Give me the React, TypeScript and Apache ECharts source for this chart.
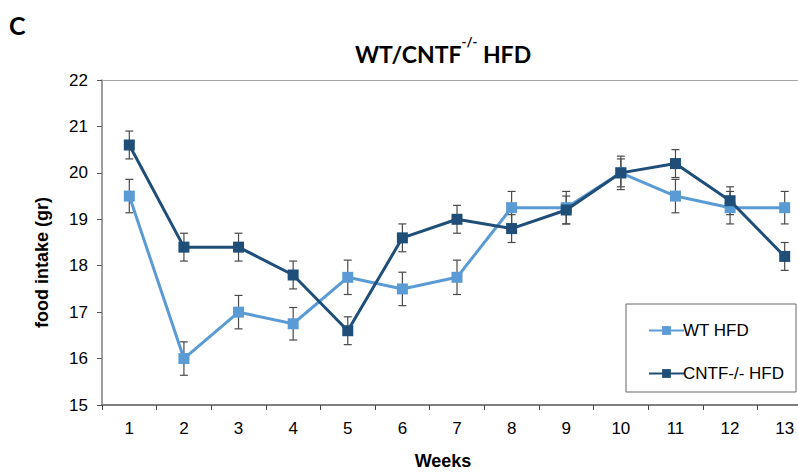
import React, { useEffect, useRef } from "react";
import * as echarts from "echarts";

const weeks = ["1", "2", "3", "4", "5", "6", "7", "8", "9", "10", "11", "12", "13"];
const wtHfd = [19.5, 16.0, 17.0, 16.75, 17.75, 17.5, 17.75, 19.25, 19.25, 20.0, 19.5, 19.25, 19.25];
const wtErr = [0.36, 0.36, 0.36, 0.35, 0.37, 0.36, 0.37, 0.35, 0.35, 0.36, 0.36, 0.35, 0.35];
const cntfHfd = [20.6, 18.4, 18.4, 17.8, 16.6, 18.6, 19.0, 18.8, 19.2, 20.0, 20.2, 19.4, 18.2];
const cntfErr = [0.3, 0.3, 0.3, 0.3, 0.3, 0.3, 0.3, 0.3, 0.3, 0.3, 0.3, 0.3, 0.3];
const yTicks = { min: 15, max: 22, interval: 1 };

const WT_COLOR = "#5b9bd5";
const CNTF_COLOR = "#1f4e79";

function errData(vals: number[], errs: number[]) {
  return vals.map((v, i) => [i, v - errs[i], v + errs[i]]);
}

function errSeries(vals: number[], errs: number[]) {
  return {
    type: "custom",
    silent: true,
    z: 1,
    data: errData(vals, errs),
    renderItem: (params: any, api: any) => {
      const x = api.value(0);
      const lo = api.coord([x, api.value(1)]);
      const hi = api.coord([x, api.value(2)]);
      const cap = 4;
      const style = { stroke: "#4a4a4a", lineWidth: 1.2 };
      return {
        type: "group",
        children: [
          { type: "line", shape: { x1: lo[0], y1: lo[1], x2: hi[0], y2: hi[1] }, style },
          { type: "line", shape: { x1: lo[0] - cap, y1: lo[1], x2: lo[0] + cap, y2: lo[1] }, style },
          { type: "line", shape: { x1: hi[0] - cap, y1: hi[1], x2: hi[0] + cap, y2: hi[1] }, style },
        ],
      };
    },
  };
}

export default function App() {
  const ref = useRef<HTMLDivElement>(null);
  useEffect(() => {
    document.body.style.margin = "0";
    const chart = echarts.init(ref.current!, null, { renderer: "svg" });
    chart.setOption({
      animation: false,
      backgroundColor: "#ffffff",
      textStyle: { fontFamily: "Liberation Sans" },
      title: {
        text: "{m|WT/CNTF}{s|-/-}{m| HFD}",
        left: 438,
        top: 30,
        textAlign: "center",
        textStyle: {
          rich: {
            m: { fontFamily: "Lato", fontWeight: "bold", fontSize: 23, color: "#000", verticalAlign: "bottom", lineHeight: 30 },
            s: { fontFamily: "Lato", fontWeight: "bold", fontSize: 13, color: "#000", verticalAlign: "top", lineHeight: 30, padding: [0, 0, 14, 0] },
          },
        },
      },
      graphic: [
        { type: "text", left: 9, top: 12, style: { text: "C", fontFamily: "Lato", fontWeight: "bold", fontSize: 25, fill: "#000" } },
        { type: "rect", shape: { x: 626, y: 304, width: 170, height: 88 }, style: { fill: "#fff", stroke: "#666", lineWidth: 1 }, z: 5 },
      ],
      legend: {
        orient: "vertical",
        left: 643,
        top: 317,
        itemGap: 26,
        itemWidth: 35,
        itemHeight: 11,
        z: 10,
        textStyle: { fontFamily: "Liberation Sans", fontSize: 17, color: "#000", padding: [0, 0, 0, -6] },
        data: ["WT HFD", "CNTF-/- HFD"],
      },
      grid: { left: 102, width: 710, top: 80, bottom: 67, containLabel: false, outerBoundsMode: "none" },
      xAxis: {
        type: "category",
        data: weeks,
        boundaryGap: true,
        name: "Weeks",
        nameLocation: "middle",
        nameGap: 47,
        nameTextStyle: { fontFamily: "Liberation Sans", fontWeight: "bold", fontSize: 18, color: "#000", padding: [0, 28, 0, 0] },
        axisLine: { lineStyle: { color: "#7f7f7f", width: 2 } },
        axisTick: { show: true, alignWithLabel: false, length: 5, lineStyle: { color: "#444", width: 1 } },
        axisLabel: { fontFamily: "Liberation Sans", fontSize: 17, color: "#000", margin: 15 },
        splitLine: { show: false },
      },
      yAxis: {
        type: "value",
        min: yTicks.min,
        max: yTicks.max,
        interval: yTicks.interval,
        name: "food intake (gr)",
        nameLocation: "middle",
        nameGap: 51,
        nameRotate: 90,
        nameTextStyle: { fontFamily: "Liberation Sans", fontWeight: "bold", fontSize: 18, color: "#000", padding: [0, 40, 0, 0] },
        axisLine: { show: true, lineStyle: { color: "#7f7f7f", width: 1.5 } },
        axisTick: { show: true, length: 5, lineStyle: { color: "#555", width: 1 } },
        axisLabel: { fontFamily: "Liberation Sans", fontSize: 17, color: "#000", margin: 14 },
        splitLine: { show: false },
      },
      series: [
        errSeries(wtHfd, wtErr),
        errSeries(cntfHfd, cntfErr),
        {
          name: "WT HFD",
          type: "line",
          data: wtHfd,
          z: 3,
          symbol: "rect",
          symbolSize: 11,
          itemStyle: { color: WT_COLOR },
          lineStyle: { color: WT_COLOR, width: 3 },
          markLine: {
            silent: true,
            symbol: "none",
            label: { show: false },
            lineStyle: { color: "#a6a6a6", width: 1, type: "solid" },
            data: [{ yAxis: 22 }],
          },
        },
        {
          name: "CNTF-/- HFD",
          type: "line",
          data: cntfHfd,
          z: 4,
          symbol: "rect",
          symbolSize: 11,
          itemStyle: { color: CNTF_COLOR },
          lineStyle: { color: CNTF_COLOR, width: 3 },
        },
      ],
    });
    return () => chart.dispose();
  }, []);
  return <div ref={ref} style={{ width: 798, height: 472 }} />;
}
